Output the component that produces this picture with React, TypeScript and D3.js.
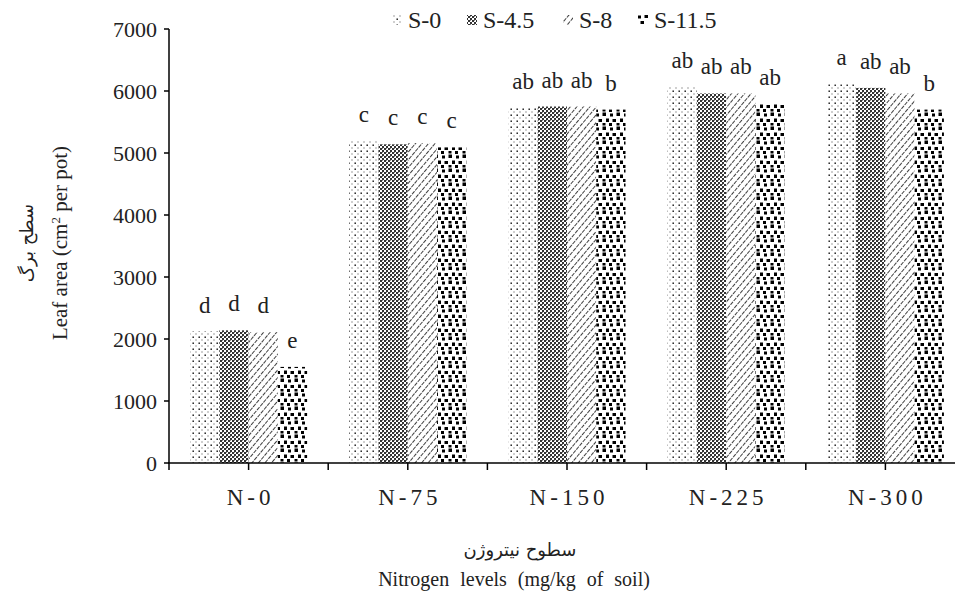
import React from "react";
import * as d3 from "d3";

const categories = ["N-0", "N-75", "N-150", "N-225", "N-300"];
const seriesNames = ["S-0", "S-4.5", "S-8", "S-11.5"];
const s0 = [2120, 5200, 5725, 6065, 6110];
const s45 = [2140, 5140, 5750, 5960, 6050];
const s8 = [2110, 5160, 5750, 5960, 5960];
const s115 = [1550, 5090, 5700, 5790, 5700];
const letters0 = ["d", "c", "ab", "ab", "a"];
const letters45 = ["d", "c", "ab", "ab", "ab"];
const letters8 = ["d", "c", "ab", "ab", "ab"];
const letters115 = ["e", "c", "b", "ab", "b"];
const yTicks = [0, 1000, 2000, 3000, 4000, 5000, 6000, 7000];

const W = 955;
const H = 593;
const serif = "'Liberation Serif', 'Times New Roman', serif";
const persian = "'DejaVu Sans', 'Noto Sans', sans-serif";

export default function App() {
  const series = [s0, s45, s8, s115];
  const lettersAll = [letters0, letters45, letters8, letters115];
  const y = d3.scaleLinear().domain([0, 7000]).range([463, 29]);
  const x0 = d3.scaleBand().domain(categories).range([169, 965]).paddingInner(0).paddingOuter(0);
  const groupW = x0.bandwidth() * 0.735;
  const x1 = d3.scaleBand().domain(seriesNames).range([0, groupW]).padding(0);
  const patIds = ["p0", "p45", "p8", "p115"];
  const legendX = [392, 467, 563, 638];

  const xTickPositions: number[] = [];
  categories.forEach((c) => {
    xTickPositions.push(x0(c)!);
    xTickPositions.push(x0(c)! + x0.bandwidth() / 2);
  });

  return (
    <svg
      width={W}
      height={H}
      style={{ position: "absolute", left: 0, top: 0, background: "#fff" }}
    >
      <defs>
        <pattern id="p0" width="6" height="6" patternUnits="userSpaceOnUse">
          <rect width="6" height="6" fill="#fff" />
          <rect x="0.5" y="0.5" width="1.4" height="1.4" fill="#000" />
          <rect x="3.5" y="3.5" width="1" height="1" fill="#444" />
        </pattern>
        <pattern id="p45" width="4" height="4" patternUnits="userSpaceOnUse">
          <rect width="4" height="4" fill="#fff" />
          <rect x="0" y="0" width="2" height="2" fill="#333" />
          <rect x="2" y="2" width="2" height="2" fill="#333" />
          <rect x="2" y="0" width="1" height="1" fill="#888" />
        </pattern>
        <pattern
          id="p8"
          width="5"
          height="5"
          patternUnits="userSpaceOnUse"
          patternTransform="rotate(40)"
        >
          <rect width="5" height="5" fill="#fff" />
          <line x1="0" y1="0" x2="0" y2="5" stroke="#000" strokeWidth="1.5" strokeDasharray="4 1" />
        </pattern>
        <pattern id="p115" width="14" height="14" patternUnits="userSpaceOnUse">
          <rect width="14" height="14" fill="#fff" />
          <rect x="0.5" y="0.5" width="3.5" height="3.5" fill="#000" />
          <rect x="8" y="1.5" width="3" height="3" fill="#000" />
          <rect x="4" y="6.5" width="3" height="3.5" fill="#000" />
          <rect x="10.5" y="7" width="3.5" height="3" fill="#000" />
          <rect x="0.5" y="11" width="3" height="2.5" fill="#000" />
          <rect x="7" y="11" width="3" height="3" fill="#000" />
        </pattern>
      </defs>

      {categories.map((c, ci) => {
        const gx = x0(c)! + (x0.bandwidth() - groupW) / 2;
        return (
          <g key={c}>
            {seriesNames.map((s, si) => {
              const v = series[si][ci];
              const bx = gx + x1(s)!;
              return (
                <g key={s}>
                  <rect
                    x={bx}
                    y={y(v)}
                    width={x1.bandwidth()}
                    height={y(0) - y(v)}
                    fill={`url(#${patIds[si]})`}
                  />
                  <text
                    x={bx + x1.bandwidth() / 2}
                    y={y(v) - 19}
                    textAnchor="middle"
                    fontFamily={serif}
                    fontSize={23}
                    fill="#222"
                  >
                    {lettersAll[si][ci]}
                  </text>
                </g>
              );
            })}
          </g>
        );
      })}

      <line x1={169} x2={169} y1={y(7000)} y2={y(0)} stroke="#000" strokeWidth={1.5} />
      {yTicks.map((t) => (
        <g key={t}>
          <line x1={164} x2={169} y1={y(t)} y2={y(t)} stroke="#000" strokeWidth={1.5} />
          <text
            x={157}
            y={y(t)}
            dy="0.35em"
            textAnchor="end"
            fontFamily={serif}
            fontSize={22}
            fill="#222"
          >
            {t}
          </text>
        </g>
      ))}

      <line x1={168} x2={W} y1={y(0)} y2={y(0)} stroke="#000" strokeWidth={1.5} />
      {xTickPositions.map((p, i) => (
        <line key={i} x1={p} x2={p} y1={y(0)} y2={y(0) + 7} stroke="#000" strokeWidth={1.5} />
      ))}
      {categories.map((c) => (
        <text
          key={c}
          x={x0(c)! + x0.bandwidth() / 2 + 2}
          y={505}
          textAnchor="middle"
          fontFamily={serif}
          fontSize={23}
          letterSpacing={4}
          fill="#222"
        >
          {c}
        </text>
      ))}

      {seriesNames.map((s, si) => (
        <g key={s}>
          <rect x={legendX[si]} y={15} width={10} height={10} fill={`url(#${patIds[si]})`} />
          <text x={legendX[si] + 16} y={28} fontFamily={serif} fontSize={24} fill="#222">
            {s}
          </text>
        </g>
      ))}

      <g transform="translate(67,243) rotate(-90)">
        <text x={0} y={0} textAnchor="middle" fontFamily={serif} fontSize={21} fill="#222">
          Leaf area (cm
          <tspan dy={-7} fontSize={13}>2</tspan>
          <tspan dy={7}> per pot)</tspan>
        </text>
      </g>
      <g transform="translate(33,243) rotate(-90)">
        <text x={0} y={0} textAnchor="middle" fontFamily={persian} fontSize={18} fill="#222">
          سطح برگ
        </text>
      </g>

      <text x={520} y={556} textAnchor="middle" fontFamily={persian} fontSize={18} fill="#222">
        سطوح نیتروژن
      </text>
      <text
        x={514}
        y={586}
        textAnchor="middle"
        fontFamily={serif}
        fontSize={20}
        wordSpacing={6}
        fill="#222"
      >
        Nitrogen levels (mg/kg of soil)
      </text>
    </svg>
  );
}
